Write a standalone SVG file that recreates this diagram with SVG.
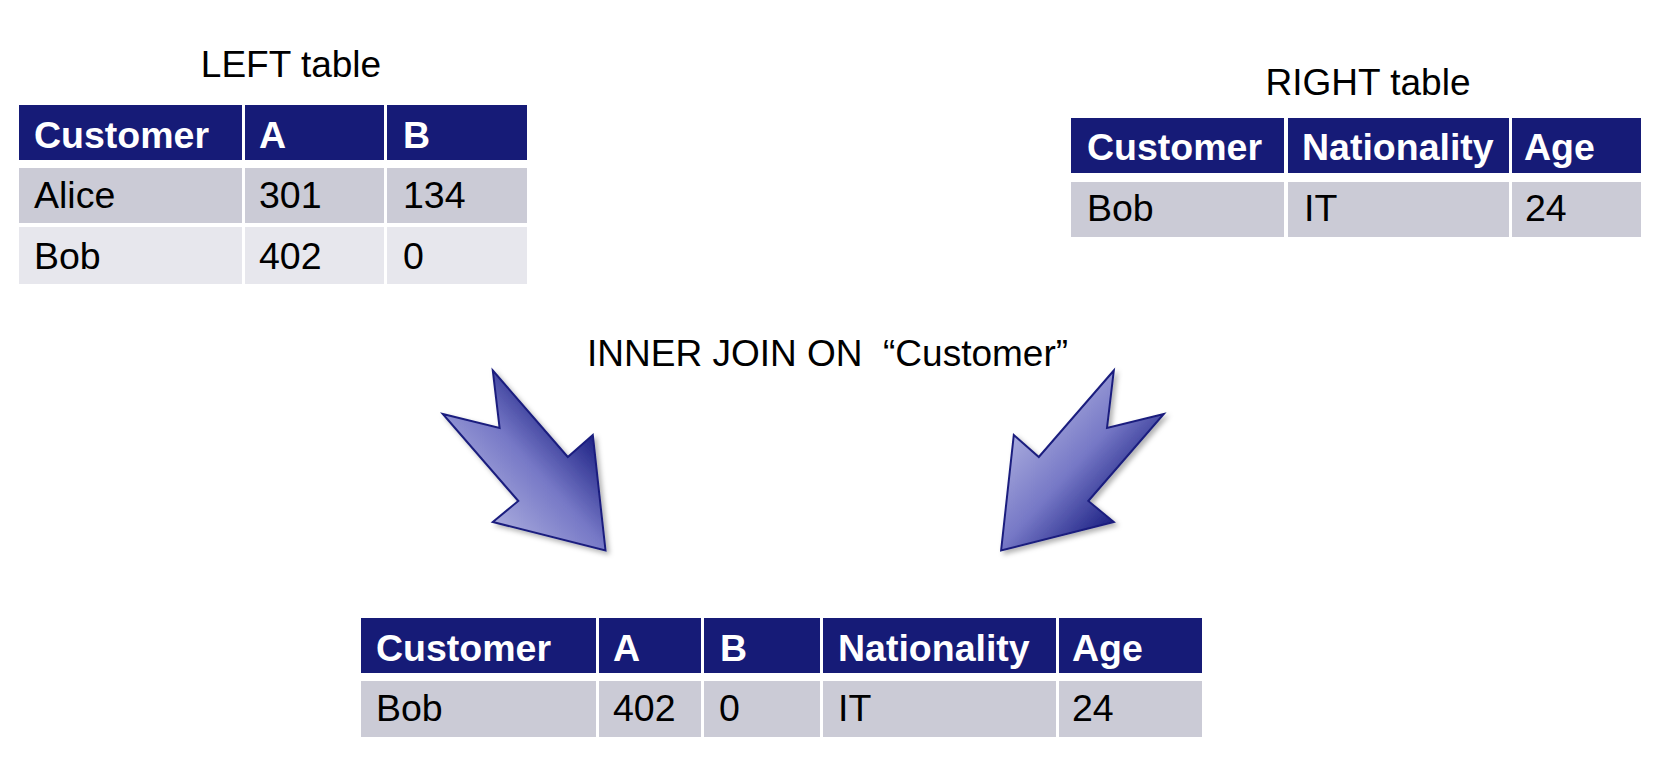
<svg xmlns="http://www.w3.org/2000/svg" width="1663" height="771" viewBox="0 0 1663 771">
<style>
  text { font-family: "Liberation Sans", Arial, Helvetica, sans-serif; }
  .title { font-size: 37px; fill: #000; }
  .hd { fill: #161b77; }
  .r1 { fill: #cbcbd6; }
  .r2 { fill: #e7e7ed; }
  .ht { font-size: 37.5px; font-weight: bold; fill: #fff; }
  .bt { font-size: 37.5px; fill: #000; }
  .arrow { stroke: #1a1f7e; stroke-width: 2; stroke-linejoin: miter; }
</style>
<defs>
  <linearGradient id="gL" gradientUnits="userSpaceOnUse" x1="490" y1="525" x2="595" y2="430">
    <stop offset="0" stop-color="#abadde"/>
    <stop offset="0.5" stop-color="#7678c6"/>
    <stop offset="1" stop-color="#171c80"/>
  </linearGradient>
  <linearGradient id="gR" gradientUnits="userSpaceOnUse" x1="1012" y1="430" x2="1117" y2="525">
    <stop offset="0" stop-color="#abadde"/>
    <stop offset="0.5" stop-color="#7678c6"/>
    <stop offset="1" stop-color="#171c80"/>
  </linearGradient>
  <filter id="sh" x="-20%" y="-20%" width="140%" height="140%">
    <feDropShadow dx="3" dy="3" stdDeviation="2.5" flood-color="#000" flood-opacity="0.3"/>
  </filter>
</defs>
<rect width="1663" height="771" fill="#fff"/>

<g id="left-title"><text class="title" x="291" y="77" text-anchor="middle">LEFT table</text></g>
<g id="right-title"><text class="title" x="1368" y="95" text-anchor="middle">RIGHT table</text></g>
<g id="join-label"><text class="title" x="587" y="366" xml:space="preserve">INNER JOIN ON  “Customer”</text></g>

<g id="left-table">
  <rect class="hd" x="19" y="105" width="223" height="55"/>
  <rect class="hd" x="245" y="105" width="139" height="55"/>
  <rect class="hd" x="387" y="105" width="140" height="55"/>
  <rect class="r1" x="19" y="168" width="223" height="55"/>
  <rect class="r1" x="245" y="168" width="139" height="55"/>
  <rect class="r1" x="387" y="168" width="140" height="55"/>
  <rect class="r2" x="19" y="227" width="223" height="57"/>
  <rect class="r2" x="245" y="227" width="139" height="57"/>
  <rect class="r2" x="387" y="227" width="140" height="57"/>
  <text class="ht" x="34" y="148">Customer</text>
  <text class="ht" x="259" y="148">A</text>
  <text class="ht" x="403" y="148">B</text>
  <text class="bt" x="34" y="208">Alice</text>
  <text class="bt" x="259" y="208">301</text>
  <text class="bt" x="403" y="208">134</text>
  <text class="bt" x="34" y="269">Bob</text>
  <text class="bt" x="259" y="269">402</text>
  <text class="bt" x="403" y="269">0</text>
</g>

<g id="right-table">
  <rect class="hd" x="1071" y="118" width="213" height="55"/>
  <rect class="hd" x="1288" y="118" width="221" height="55"/>
  <rect class="hd" x="1512" y="118" width="129" height="55"/>
  <rect class="r1" x="1071" y="182" width="213" height="55"/>
  <rect class="r1" x="1288" y="182" width="221" height="55"/>
  <rect class="r1" x="1512" y="182" width="129" height="55"/>
  <text class="ht" x="1087" y="160">Customer</text>
  <text class="ht" x="1302" y="160">Nationality</text>
  <text class="ht" x="1524" y="160">Age</text>
  <text class="bt" x="1087" y="221">Bob</text>
  <text class="bt" x="1304" y="221">IT</text>
  <text class="bt" x="1525" y="221">24</text>
</g>

<g id="result-table">
  <rect class="hd" x="361" y="618" width="235" height="55"/>
  <rect class="hd" x="599" y="618" width="102" height="55"/>
  <rect class="hd" x="704" y="618" width="116" height="55"/>
  <rect class="hd" x="823" y="618" width="233" height="55"/>
  <rect class="hd" x="1059" y="618" width="143" height="55"/>
  <rect class="r1" x="361" y="681" width="235" height="56"/>
  <rect class="r1" x="599" y="681" width="102" height="56"/>
  <rect class="r1" x="704" y="681" width="116" height="56"/>
  <rect class="r1" x="823" y="681" width="233" height="56"/>
  <rect class="r1" x="1059" y="681" width="143" height="56"/>
  <text class="ht" x="376" y="661">Customer</text>
  <text class="ht" x="613" y="661">A</text>
  <text class="ht" x="720" y="661">B</text>
  <text class="ht" x="838" y="661">Nationality</text>
  <text class="ht" x="1072" y="661">Age</text>
  <text class="bt" x="376" y="721">Bob</text>
  <text class="bt" x="613" y="721">402</text>
  <text class="bt" x="719" y="721">0</text>
  <text class="bt" x="838" y="721">IT</text>
  <text class="bt" x="1072" y="721">24</text>
</g>

<g id="connectors">
  <polygon class="arrow" fill="url(#gL)" filter="url(#sh)" points="492.8,370.5 567.8,457 592.8,435 605.5,550.5 492.8,522 518.3,501 442.8,414 499.6,428"/>
  <polygon class="arrow" fill="url(#gR)" filter="url(#sh)" points="1113.8,370.5 1038.8,457 1013.8,435 1001.1,550.5 1113.8,522 1088.3,501 1163.8,414 1107,428"/>
</g>
</svg>
